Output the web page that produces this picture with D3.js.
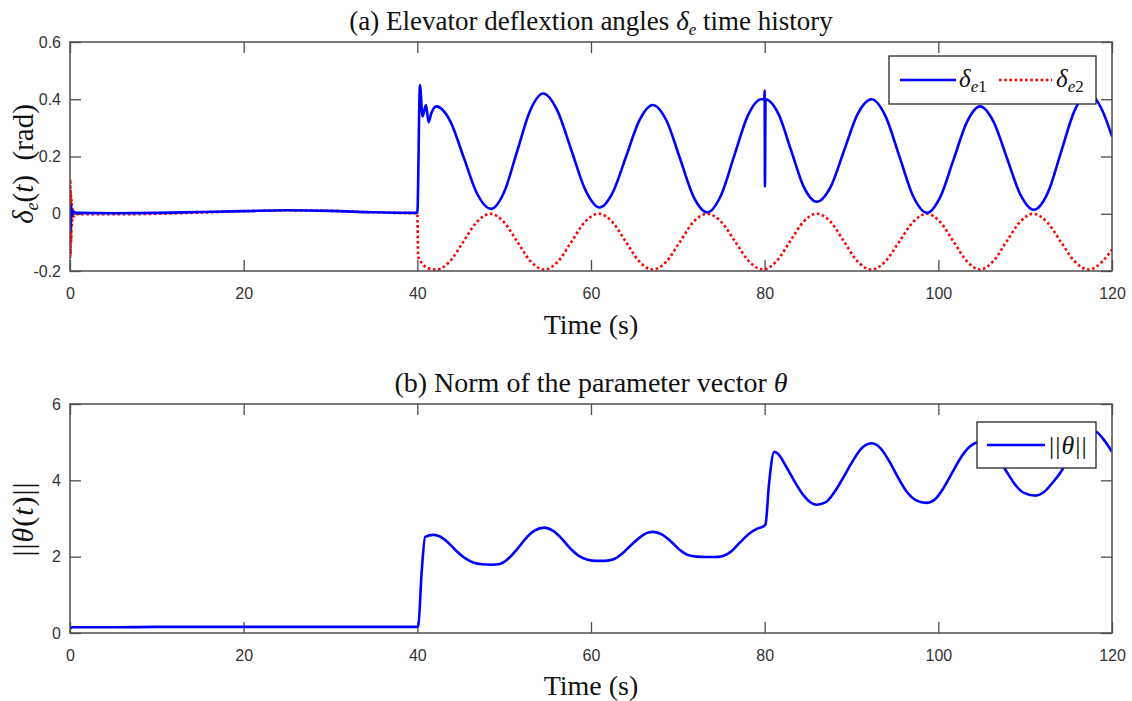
<!DOCTYPE html>
<html>
<head>
<meta charset="utf-8">
<script src="https://cdn.jsdelivr.net/npm/d3@7"></script>
<style>
body { margin: 0; background: #fff; }
</style>
</head>
<body>
<div id="chart"></div>
<script>
var width = 1132;
var height = 701;

// tick values
var timeTicks = [0, 20, 40, 60, 80, 100, 120];
var deltaTicks = [-0.2, 0, 0.2, 0.4, 0.6];
var normTicks = [0, 2, 4, 6];

// delta_e1 (blue, solid)
var delta1Time = [0, 0.05, 0.1, 0.2, 0.3, 0.5, 1, 5, 10, 15, 20, 25, 30, 35, 39.9, 40.0, 40.3, 40.6, 41.0, 41.3, 41.6, 42.2,
    43.8, 45.35, 46.9, 48.5, 50.0, 51.5, 53.0, 54.5, 56.1, 57.75, 59.4, 61.0, 62.5, 64.05, 65.6, 67.1, 68.7, 70.25, 71.8, 73.4,
    74.95, 76.5, 78.05, 79.6, 79.95, 80.0, 80.03, 80.1, 81.6, 83.05, 84.5, 86.0, 87.6, 89.15, 90.7, 92.3, 93.9, 95.5, 97.1, 98.7,
    100.2, 101.75, 103.3, 104.8, 106.35, 107.9, 109.45, 111.0, 112.6, 114.15, 115.7, 117.3, 118.9, 120];
var delta1Value = [0, -0.06, 0.03, -0.01, 0.01, 0.005, 0.003, 0.002, 0.003, 0.006, 0.009, 0.012, 0.01, 0.005, 0.003, 0.003, 0.45, 0.34, 0.38, 0.32, 0.35, 0.375,
    0.323, 0.196, 0.069, 0.017, 0.076, 0.219, 0.361, 0.42, 0.362, 0.221, 0.08, 0.022, 0.074, 0.201, 0.328, 0.38, 0.325, 0.193, 0.06, 0.005,
    0.063, 0.203, 0.342, 0.40, 0.40, 0.43, 0.095, 0.40, 0.348, 0.221, 0.094, 0.042, 0.094, 0.221, 0.348, 0.40, 0.342, 0.202, 0.061, 0.003,
    0.057, 0.189, 0.321, 0.375, 0.322, 0.195, 0.067, 0.014, 0.073, 0.217, 0.361, 0.42, 0.36, 0.27];

// delta_e2 (red, dotted)
var delta2Time = [0, 0.03, 0.06, 0.1, 0.14, 0.18, 0.22, 0.3, 0.4, 0.6, 1, 5, 10, 15, 20, 25, 30, 35, 39.9, 40.0, 40.1, 40.6, 41.2, 42.2,
    43.75, 45.3, 46.85, 48.4, 49.95, 51.5, 53.05, 54.6, 56.2, 57.75, 59.3, 60.9, 62.45, 64.0, 65.55, 67.1,
    68.7, 70.25, 71.8, 73.4, 75.0, 76.6, 78.2, 79.8, 81.35, 82.9, 84.45, 86.0, 87.6, 89.15, 90.7, 92.3,
    93.9, 95.5, 97.1, 98.7, 100.2, 101.75, 103.3, 104.8, 106.3, 107.85, 109.4, 110.9, 112.5, 114.1, 115.7, 117.3, 118.9, 120];
var delta2Value = [0, 0.12, -0.15, 0.08, -0.1, 0.05, -0.04, 0.02, -0.01, 0, -0.002, -0.002, 0, 0.004, 0.009, 0.012, 0.01, 0.005, 0.002, 0.002, -0.15, -0.175, -0.19, -0.195,
    -0.1665, -0.0975, -0.0285, 0, -0.0285, -0.0975, -0.1665, -0.195, -0.1665, -0.0975, -0.0285, 0, -0.0285, -0.0975, -0.1665, -0.195,
    -0.1665, -0.0975, -0.0285, 0, -0.0285, -0.0975, -0.1665, -0.195, -0.1665, -0.0975, -0.0285, 0, -0.0285, -0.0975, -0.1665, -0.195,
    -0.1665, -0.0975, -0.0285, 0, -0.0285, -0.0975, -0.1665, -0.195, -0.1665, -0.0975, -0.0285, 0, -0.0285, -0.0975, -0.1665, -0.195, -0.1665, -0.125];

// ||theta|| (blue, solid)
var normTime = [0, 0.3, 5, 10, 20, 30, 39.9, 40.1, 40.5, 40.9, 41.8, 42.6, 43.5, 44.5, 45.5, 46.5, 47.5, 48.5, 49.5, 50.5, 51.5, 52.5, 53.5,
    54.6, 55.6, 56.6, 57.6, 58.6, 59.6, 60.6, 61.6, 62.6, 63.6, 64.6, 65.6, 66.6, 67.2, 68.2, 69.2, 70.2, 71.2, 72.2, 73.2, 74.2, 75.2,
    76.2, 77.2, 78.2, 79.2, 79.9, 80.1, 80.5, 81.1, 81.5, 82.5, 83.5, 84.5, 85.3, 86.0, 87.0, 88.0, 89.0, 90.0, 91.0, 92.3,
    93.3, 94.3, 95.3, 96.3, 97.5, 98.6, 99.6, 100.6, 101.6, 102.6, 103.6, 104.8, 105.8, 106.8, 107.8, 108.8, 109.8, 111.2,
    112.2, 113.2, 114.2, 115.2, 116.2, 117.3, 118.2, 119.2, 120];
var normValue = [0.12, 0.15, 0.15, 0.16, 0.16, 0.16, 0.16, 0.17, 1.6, 2.52, 2.57, 2.53, 2.38, 2.15, 1.96, 1.84, 1.8, 1.79, 1.81, 1.95, 2.2, 2.48, 2.68,
    2.76, 2.68, 2.48, 2.22, 2.02, 1.92, 1.89, 1.89, 1.93, 2.08, 2.3, 2.5, 2.63, 2.65, 2.58, 2.4, 2.18, 2.04, 2.0, 1.99, 1.99, 2.02,
    2.15, 2.38, 2.6, 2.74, 2.8, 2.85, 3.9, 4.75, 4.7, 4.35, 3.95, 3.6, 3.42, 3.36, 3.42, 3.68, 4.05, 4.45, 4.8, 4.97,
    4.85, 4.52, 4.1, 3.72, 3.47, 3.41, 3.5, 3.8, 4.2, 4.6, 4.88, 5.0, 4.9, 4.6, 4.25, 3.9, 3.68, 3.6,
    3.7, 3.95, 4.25, 4.7, 5.1, 5.32, 5.27, 5.02, 4.75];

var serif = '"Liberation Serif", "Times New Roman", serif';
var sans = '"Liberation Sans", Arial, sans-serif';
var axisColor = '#4d4d4d';
var blue = '#0000ff';
var red = '#ff0000';

var svg = d3.select('#chart')
    .append('svg')
    .attr('width', width)
    .attr('height', height)
    .style('font-family', serif);

var left = 70, right = 1112, plotW = right - left;

var x = d3.scaleLinear().domain([0, 120]).range([0, plotW]);

function tickFmt(d) {
    if (d === 0) return '0';
    return Number.isInteger(d) ? String(d) : d3.format('.1f')(d).replace('\u2212', '-');
}

// draws one panel: box, ticks on all four sides, tick labels
function drawPanel(id, top, bottom, yDomain, yTicks) {
    var h = bottom - top;
    var y = d3.scaleLinear().domain(yDomain).range([h, 0]);
    var g = svg.append('g').attr('transform', 'translate(' + left + ',' + top + ')');

    g.append('clipPath').attr('id', id)
        .append('rect').attr('width', plotW).attr('height', h);

    var styleAxis = function (sel, showText) {
        sel.select('.domain').remove();
        sel.selectAll('.tick line').attr('stroke', axisColor).attr('stroke-width', 1.3);
        sel.selectAll('.tick text')
            .attr('fill', '#333')
            .style('font-family', sans)
            .style('font-size', '16px')
            .style('display', showText ? null : 'none');
    };

    g.append('g').attr('transform', 'translate(0,' + h + ')')
        .call(d3.axisBottom(x).tickValues(timeTicks).tickFormat(tickFmt).tickSize(-11).tickPadding(17))
        .call(styleAxis, true);
    g.append('g')
        .call(d3.axisTop(x).tickValues(timeTicks).tickSize(-11))
        .call(styleAxis, false);
    g.append('g')
        .call(d3.axisLeft(y).tickValues(yTicks).tickFormat(tickFmt).tickSize(-11).tickPadding(9))
        .call(styleAxis, true);
    g.append('g').attr('transform', 'translate(' + plotW + ',0)')
        .call(d3.axisRight(y).tickValues(yTicks).tickSize(-11))
        .call(styleAxis, false);

    var plot = g.append('g').attr('clip-path', 'url(#' + id + ')');

    g.append('rect')
        .attr('width', plotW).attr('height', h)
        .attr('fill', 'none')
        .attr('stroke', axisColor)
        .attr('stroke-width', 1.5);

    return { g: g, plot: plot, y: y, h: h };
}

function addSeries(panel, times, values, color, dash) {
    var line = d3.line()
        .x(d => x(d[0]))
        .y(d => panel.y(d[1]))
        .curve(d3.curveMonotoneX);
    panel.plot.append('path')
        .datum(d3.zip(times, values))
        .attr('d', line)
        .attr('fill', 'none')
        .attr('stroke', color)
        .attr('stroke-width', 2.6)
        .attr('stroke-dasharray', dash || null)
        .attr('stroke-linejoin', 'round');
}

// ---- panel (a)
var pa = drawPanel('clipA', 42, 271, [-0.2, 0.6], deltaTicks);
addSeries(pa, delta2Time, delta2Value, red, '2.6,2.6');
addSeries(pa, delta1Time, delta1Value, blue, null);

// ---- panel (b)
var pb = drawPanel('clipB', 404, 633, [0, 6], normTicks);
addSeries(pb, normTime, normValue, blue, null);

// titles
var t1 = svg.append('text').attr('x', 591).attr('y', 30).attr('text-anchor', 'middle')
    .style('font-size', '27px').attr('fill', '#111');
t1.append('tspan').text('(a) Elevator deflextion angles ');
t1.append('tspan').style('font-style', 'italic').text('\u03b4');
t1.append('tspan').attr('dy', 5).style('font-size', '17px').style('font-style', 'italic').text('e');
t1.append('tspan').attr('dy', -5).text(' time history');

var t2 = svg.append('text').attr('x', 591).attr('y', 392).attr('text-anchor', 'middle')
    .style('font-size', '28px').attr('fill', '#111');
t2.append('tspan').text('(b) Norm of the parameter vector ');
t2.append('tspan').style('font-style', 'italic').text('\u03b8');

// x labels
[334, 695].forEach(function (yy) {
    svg.append('text').attr('x', 591).attr('y', yy).attr('text-anchor', 'middle')
        .style('font-size', '28px').attr('fill', '#111').text('Time (s)');
});

// y labels
var yl1 = svg.append('text').attr('transform', 'translate(33,164) rotate(-90)')
    .attr('text-anchor', 'middle').style('font-size', '29px').attr('fill', '#111');
yl1.append('tspan').style('font-style', 'italic').text('\u03b4');
yl1.append('tspan').attr('dy', 5).style('font-size', '18px').style('font-style', 'italic').text('e');
yl1.append('tspan').attr('dy', -5).text('(');
yl1.append('tspan').style('font-style', 'italic').text('t');
yl1.append('tspan').text(')\u2002(rad)');

var yl2 = svg.append('text').attr('transform', 'translate(33,519) rotate(-90)')
    .attr('text-anchor', 'middle').style('font-size', '30px').attr('fill', '#111')
    .style('letter-spacing', '1px');
yl2.append('tspan').text('||');
yl2.append('tspan').style('font-style', 'italic').text('\u03b8');
yl2.append('tspan').text('(');
yl2.append('tspan').style('font-style', 'italic').text('t');
yl2.append('tspan').text(')||');

// legend (a)
var la = svg.append('g').attr('transform', 'translate(889,56)');
la.append('rect').attr('width', 207).attr('height', 48)
    .attr('fill', '#fff').attr('stroke', '#262626').attr('stroke-width', 1.3);
la.append('line').attr('x1', 11).attr('x2', 67).attr('y1', 24).attr('y2', 24)
    .attr('stroke', blue).attr('stroke-width', 2.6);
var lt1 = la.append('text').attr('x', 70).attr('y', 31).style('font-size', '25px').attr('fill', '#111');
lt1.append('tspan').style('font-style', 'italic').text('\u03b4');
var sub1 = lt1.append('tspan').attr('dy', 5).style('font-size', '17px');
sub1.append('tspan').style('font-style', 'italic').text('e');
sub1.append('tspan').text('1');
la.append('line').attr('x1', 110).attr('x2', 163).attr('y1', 24).attr('y2', 24)
    .attr('stroke', red).attr('stroke-width', 2.6).attr('stroke-dasharray', '2.6,2.6');
var lt2 = la.append('text').attr('x', 167).attr('y', 31).style('font-size', '25px').attr('fill', '#111');
lt2.append('tspan').style('font-style', 'italic').text('\u03b4');
var sub2 = lt2.append('tspan').attr('dy', 5).style('font-size', '17px');
sub2.append('tspan').style('font-style', 'italic').text('e');
sub2.append('tspan').text('2');

// legend (b)
var lb = svg.append('g').attr('transform', 'translate(977,422)');
lb.append('rect').attr('width', 119).attr('height', 46)
    .attr('fill', '#fff').attr('stroke', '#262626').attr('stroke-width', 1.3);
lb.append('line').attr('x1', 10).attr('x2', 68).attr('y1', 23).attr('y2', 23)
    .attr('stroke', blue).attr('stroke-width', 2.6);
var lt3 = lb.append('text').attr('x', 72).attr('y', 32).style('font-size', '26px').attr('fill', '#111')
    .style('letter-spacing', '1px');
lt3.append('tspan').text('||');
lt3.append('tspan').style('font-style', 'italic').text('\u03b8');
lt3.append('tspan').text('||');
</script>
</body>
</html>
